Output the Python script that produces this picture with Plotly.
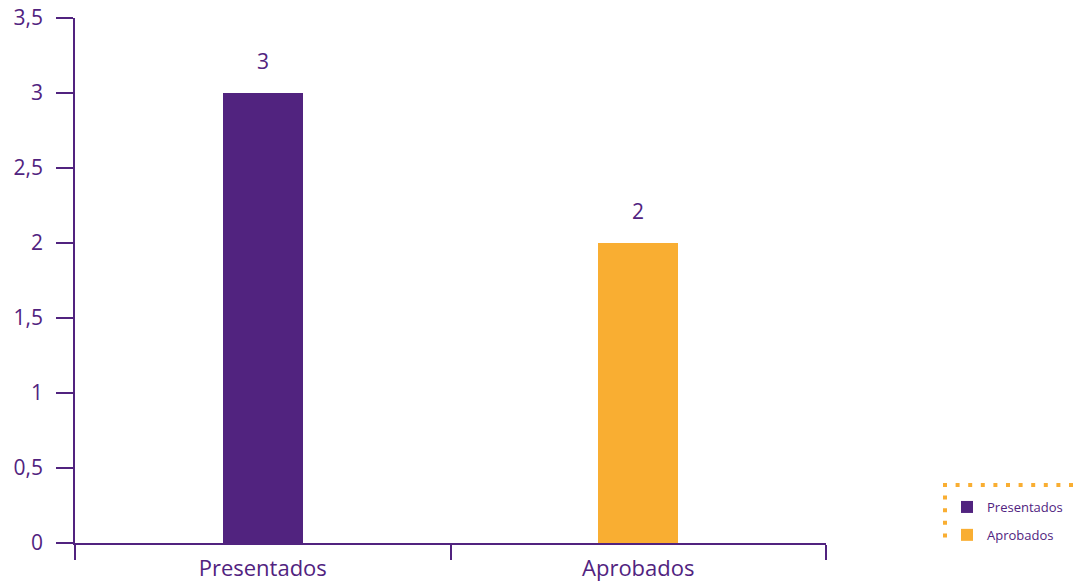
import plotly.graph_objects as go

categories = ["Presentados", "Aprobados"]
values = [3, 2]
colors = ["#51237F", "#F9AE32"]
y_ticks = [0, 0.5, 1, 1.5, 2, 2.5, 3, 3.5]

PURPLE = "#51237F"
ORANGE = "#F9AE32"
FONT = "Open Sans"

fig = go.Figure()
for cat, val, col in zip(categories, values, colors):
    fig.add_trace(go.Bar(
        x=[cat], y=[val], name=cat, marker=dict(color=col, line=dict(width=0)),
        width=0.213, legendgroup=cat, hoverinfo="x+y",
    ))
    fig.add_annotation(x=cat, y=val, text=str(val), showarrow=False,
                       yshift=32, font=dict(family=FONT, size=21, color=PURPLE))

fig.update_layout(
    width=1077, height=585,
    margin=dict(l=75, r=251, t=18, b=42),
    paper_bgcolor="white", plot_bgcolor="white",
    separators=",.",
    font=dict(family=FONT, color=PURPLE),
    showlegend=True,
    legend=dict(
        xref="container", yref="container",
        x=947 / 1077, xanchor="left",
        y=1 - 492 / 585, yanchor="top",
        bgcolor="rgba(0,0,0,0)",
        font=dict(family=FONT, size=13, color=PURPLE),
        traceorder="grouped", tracegroupgap=8,
    ),
    xaxis=dict(
        showline=True, linecolor=PURPLE, linewidth=1.5,
        ticks="outside", tickson="boundaries", ticklen=15, tickcolor=PURPLE, tickwidth=1.5,
        tickfont=dict(family=FONT, size=22, color=PURPLE), ticklabelstandoff=5,
        showgrid=False, zeroline=False, automargin=False,
    ),
    yaxis=dict(
        range=[0, 3.5], tickvals=y_ticks,
        showline=True, linecolor=PURPLE, linewidth=1.5,
        ticks="outside", ticklen=17, tickcolor=PURPLE, tickwidth=1.5,
        tickfont=dict(family=FONT, size=21, color=PURPLE), ticklabelstandoff=9,
        showgrid=False, zeroline=False, automargin=False,
    ),
    bargap=0,
)

# dotted legend frame (top and left edges)
fig.add_shape(type="line", xref="paper", yref="paper",
              x0=(943 - 75) / 751, x1=(1077 - 75) / 751,
              y0=(543 - 485) / 525, y1=(543 - 485) / 525,
              line=dict(color=ORANGE, width=4, dash="4px,8.6px"))
fig.add_shape(type="line", xref="paper", yref="paper",
              x0=(945 - 75) / 751, x1=(945 - 75) / 751,
              y0=(543 - 483) / 525, y1=(543 - 540) / 525,
              line=dict(color=ORANGE, width=4, dash="4px,8.6px"))

fig.write_html("out.html", config={"displayModeBar": False},
               post_script="document.body.style.margin='0';")
